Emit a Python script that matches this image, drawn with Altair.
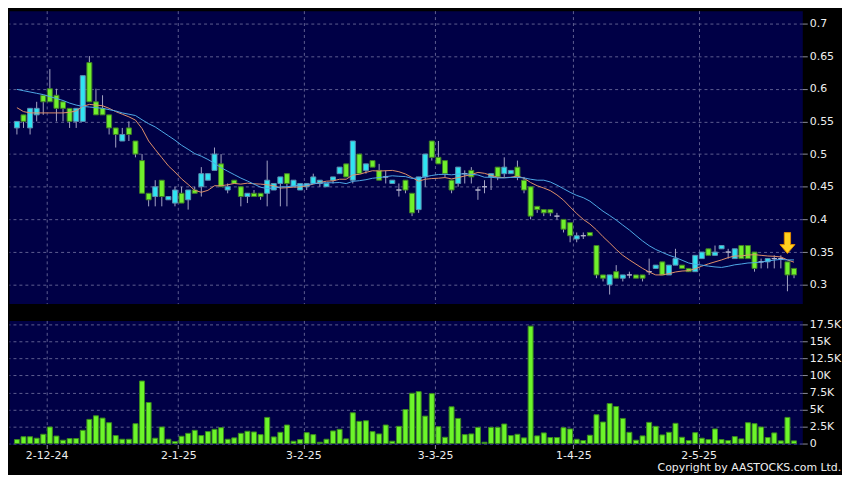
import altair as alt
import pandas as pd
import numpy as np

# ---- data (one entry per trading day) ----
opens = [0.54,0.56,0.54,0.56,0.59,0.60,0.59,0.58,0.57,0.55,
         0.55,0.64,0.58,0.57,0.56,0.54,0.52,0.54,0.52,0.49,
         0.44,0.435,0.46,0.43,0.425,0.44,0.43,0.445,0.45,0.46,
         0.475,0.485,0.445,0.46,0.45,0.435,0.44,0.44,0.44,0.445,
         0.455,0.47,0.45,0.445,0.45,0.455,0.455,0.45,0.46,0.47,
         0.485,0.46,0.50,0.475,0.49,0.475,0.465,0.455,0.445,0.46,
         0.44,0.415,0.465,0.52,0.495,0.49,0.46,0.455,0.47,0.475,
         0.445,0.45,0.465,0.48,0.47,0.47,0.48,0.46,0.45,0.42,
         0.415,0.415,0.405,0.40,0.395,0.37,0.375,0.38,0.36,0.315,
         0.30,0.32,0.31,0.315,0.315,0.315,0.32,0.325,0.335,0.315,
         0.33,0.33,0.325,0.32,0.34,0.355,0.345,0.355,0.35,0.34,
         0.36,0.36,0.35,0.335,0.335,0.34,0.34,0.335,0.325]
highs = [0.55,0.56,0.57,0.58,0.59,0.63,0.60,0.58,0.57,0.57,
         0.62,0.65,0.60,0.59,0.56,0.54,0.54,0.55,0.52,0.50,
         0.44,0.46,0.46,0.435,0.45,0.45,0.445,0.45,0.48,0.47,
         0.51,0.50,0.455,0.46,0.45,0.44,0.445,0.44,0.49,0.455,
         0.465,0.47,0.46,0.455,0.455,0.47,0.46,0.455,0.465,0.48,
         0.485,0.52,0.50,0.485,0.49,0.485,0.475,0.46,0.455,0.46,
         0.44,0.465,0.50,0.52,0.52,0.49,0.46,0.48,0.475,0.48,
         0.45,0.46,0.47,0.48,0.495,0.475,0.49,0.465,0.45,0.42,
         0.415,0.415,0.41,0.40,0.395,0.38,0.38,0.38,0.36,0.315,
         0.315,0.33,0.315,0.32,0.315,0.315,0.34,0.33,0.335,0.33,
         0.355,0.33,0.325,0.345,0.35,0.355,0.36,0.36,0.355,0.355,
         0.36,0.36,0.35,0.34,0.34,0.345,0.345,0.335,0.325]
lows = [0.53,0.54,0.53,0.55,0.56,0.58,0.55,0.55,0.54,0.54,
        0.55,0.58,0.56,0.56,0.53,0.51,0.52,0.52,0.495,0.44,
        0.42,0.42,0.42,0.43,0.42,0.425,0.415,0.44,0.435,0.46,
        0.475,0.45,0.44,0.455,0.42,0.425,0.435,0.43,0.42,0.445,
        0.42,0.42,0.45,0.445,0.445,0.455,0.45,0.45,0.455,0.47,
        0.465,0.455,0.47,0.47,0.48,0.46,0.455,0.455,0.435,0.44,
        0.405,0.41,0.45,0.49,0.485,0.465,0.44,0.45,0.455,0.455,
        0.43,0.44,0.445,0.46,0.465,0.47,0.46,0.44,0.40,0.41,
        0.405,0.405,0.40,0.38,0.365,0.365,0.37,0.375,0.31,0.305,
        0.285,0.31,0.305,0.31,0.31,0.305,0.315,0.325,0.315,0.315,
        0.33,0.325,0.32,0.32,0.34,0.345,0.345,0.355,0.34,0.34,
        0.34,0.34,0.32,0.325,0.325,0.325,0.325,0.29,0.31]
closes = [0.55,0.55,0.57,0.57,0.58,0.58,0.57,0.57,0.55,0.57,
          0.62,0.58,0.56,0.56,0.54,0.53,0.53,0.53,0.50,0.44,
          0.43,0.45,0.435,0.435,0.445,0.425,0.445,0.44,0.47,0.47,
          0.50,0.45,0.45,0.455,0.435,0.44,0.435,0.435,0.46,0.455,
          0.465,0.455,0.46,0.455,0.455,0.465,0.46,0.455,0.465,0.48,
          0.465,0.52,0.47,0.485,0.48,0.46,0.465,0.46,0.445,0.445,
          0.41,0.465,0.50,0.495,0.485,0.47,0.445,0.48,0.47,0.465,
          0.445,0.45,0.47,0.465,0.48,0.475,0.465,0.445,0.405,0.415,
          0.41,0.41,0.405,0.385,0.375,0.375,0.375,0.375,0.315,0.31,
          0.315,0.31,0.315,0.315,0.31,0.31,0.32,0.33,0.315,0.33,
          0.34,0.325,0.32,0.345,0.35,0.345,0.35,0.36,0.35,0.355,
          0.34,0.34,0.325,0.335,0.34,0.34,0.34,0.315,0.315]
volumes_k = [0.58,1.0,1.0,0.78,1.36,2.43,1.1,0.49,0.73,0.73,
             1.94,3.55,4.08,3.74,3.06,1.17,0.63,0.63,2.92,9.19,
             6.03,0.78,2.43,0.63,0.29,1.07,1.5,1.94,1.17,1.75,
             2.09,2.33,0.63,0.83,1.5,1.8,1.7,1.31,3.84,0.97,
             1.65,2.72,0.34,0.58,1.6,1.31,0.19,0.63,1.85,2.09,
             0.68,4.52,3.26,3.35,1.75,1.41,2.72,0.34,2.53,5.0,
             7.39,7.63,4.03,7.34,2.48,0.92,5.4,3.69,1.31,1.41,
             2.38,0.19,2.38,2.38,2.87,1.17,1.36,0.83,17.26,1.12,
             1.56,0.88,0.88,2.33,2.14,0.63,0.44,1.22,4.23,3.16,
             5.88,5.44,3.69,1.65,0.49,1.12,3.11,2.53,1.26,1.65,
             2.97,0.92,0.44,1.6,0.78,0.58,2.14,0.58,0.44,1.02,
             0.68,3.06,2.92,2.43,0.88,1.56,0.39,3.84,0.39]
ma10_head = [0.571,0.565,0.563,0.563,0.563,0.563,0.563,0.563,0.564]
ma20_head = [0.599,0.597,0.595,0.593,0.591,0.588,0.585,0.582,0.578,0.575,
             0.573,0.572,0.571,0.570,0.568,0.566,0.563,0.561,0.559]
tick_bars = [4, 24, 43, 63, 84, 103]
tick_labels = ["2-12-24", "2-1-25", "3-2-25", "3-3-25", "1-4-25", "2-5-25"]
price_ticks = [0.3, 0.35, 0.4, 0.45, 0.5, 0.55, 0.6, 0.65, 0.7]
vol_ticks = [0, 2.5, 5, 7.5, 10, 12.5, 15, 17.5]
arrow_bars = [117]

# ---- table ----
n = len(closes)
df = pd.DataFrame({"i": list(range(n)), "open": opens, "high": highs,
                   "low": lows, "close": closes, "vol": volumes_k})
cs = pd.Series(closes)
ma10 = cs.rolling(10).mean().to_numpy()
ma10[:len(ma10_head)] = ma10_head
ma20 = cs.rolling(20).mean().to_numpy()
ma20[:len(ma20_head)] = ma20_head
df["ma10"] = ma10
df["ma20"] = ma20
df["dir"] = np.where(df["close"] > df["open"], "up",
                     np.where(df["close"] < df["open"], "down", "flat"))
df["arrow"] = df["i"].isin(arrow_bars)

# ---- style ----
FONT = "DejaVu Sans"
NAVY = "#000046"
GRID = "#5e5e90"
TXT = "#f0f0f0"
TICK = "#8a8a9a"
grid_pos = [b + 0.5 for b in tick_bars]
label_expr = " : ".join(f"datum.value == {p} ? '{t}'" for p, t in zip(grid_pos, tick_labels)) + " : ''"

xscale = alt.Scale(domain=[-0.45, 118.5], nice=False, zero=False)
x_price = alt.X("i:Q", scale=xscale, axis=alt.Axis(values=grid_pos, labels=False, ticks=False,
                domain=False, grid=True, gridColor=GRID, gridDash=[3, 3], gridWidth=1, title=None))
x_vol = alt.X("i:Q", scale=xscale, axis=alt.Axis(values=grid_pos, labelExpr=label_expr,
              ticks=True, tickSize=4, tickColor=TICK, labelPadding=1, labelColor=TXT,
              labelFont=FONT, labelFontSize=11, domain=False, grid=True, gridColor=GRID,
              gridDash=[3, 3], gridWidth=1, title=None, labelFlush=False))

yprice_scale = alt.Scale(domain=[0.2712, 0.7195], nice=False, zero=False)
yprice_axis = alt.Axis(orient="right", values=price_ticks, format="~g", grid=True,
                       gridColor=GRID, gridDash=[3, 3], gridWidth=1, domain=False,
                       tickColor=TICK, tickSize=5, labelPadding=2, labelColor=TXT,
                       labelFont=FONT, labelFontSize=11, title=None)

base = alt.Chart(df)

wicks = base.mark_rule(color="#a4a4c4", strokeWidth=1).encode(
    x=x_price,
    y=alt.Y("low:Q", scale=yprice_scale, axis=yprice_axis),
    y2="high:Q")

color_dom = ["up", "down", "flat"]
bodies = base.mark_bar(size=5, strokeWidth=1).encode(
    x=x_price,
    y=alt.Y("open:Q", scale=yprice_scale, axis=yprice_axis),
    y2="close:Q",
    fill=alt.Fill("dir:N", scale=alt.Scale(domain=color_dom, range=["#2fe4f2", "#70f02c", "#b4b4cc"]), legend=None),
    stroke=alt.Stroke("dir:N", scale=alt.Scale(domain=color_dom, range=["#5d8fb0", "#3f7d26", "#b4b4cc"]), legend=None))

ma10_line = base.mark_line(color="#e0906a", strokeWidth=1).encode(
    x=x_price, y=alt.Y("ma10:Q", scale=yprice_scale, axis=yprice_axis))
ma20_line = base.mark_line(color="#4fa8e6", strokeWidth=1).encode(
    x=x_price, y=alt.Y("ma20:Q", scale=yprice_scale, axis=yprice_axis))

arrow_shape = "M-0.3,-1L0.3,-1L0.3,0.15L0.72,0.15L0,1L-0.72,0.15L-0.3,0.15Z"
arrow = base.transform_filter("datum.arrow").mark_point(
    shape=arrow_shape, size=440, filled=True, color="#ffd21f", stroke="#e08a00",
    strokeWidth=1, opacity=1, yOffset=-19).encode(
    x=x_price, y=alt.Y("high:Q", scale=yprice_scale, axis=yprice_axis))

price = alt.layer(wicks, bodies, ma10_line, ma20_line, arrow).properties(width=799, height=295)

vol_label_expr = "datum.value == 0 ? '0' : format(datum.value, '~g') + 'K'"
volume = base.mark_bar(size=5, color="#6cf52a", stroke="#3a8a1e", strokeWidth=1).encode(
    x=x_vol,
    y=alt.Y("vol:Q", scale=alt.Scale(domain=[-0.15, 18.1], nice=False, zero=False),
            axis=alt.Axis(orient="right", values=vol_ticks, labelExpr=vol_label_expr, grid=True,
                          gridColor=GRID, gridDash=[3, 3], gridWidth=1, domain=False,
                          tickColor=TICK, tickSize=5, labelPadding=2, labelColor=TXT,
                          labelFont=FONT, labelFontSize=11, title=None)),
    y2=alt.Y2(datum=0)).properties(width=799, height=125)

chart = alt.vconcat(price, volume, spacing=13).properties(
    padding=0,
    background="#000000",
    title=alt.TitleParams(text="Copyright by AASTOCKS.com Ltd.", orient="bottom", anchor="end",
                          frame="bounds", color=TXT, fontSize=11, font=FONT,
                          fontWeight="normal", offset=1),
).configure_view(fill=NAVY, stroke="transparent")

chart.save("out.html", embed_options={"renderer": "svg", "actions": False})
